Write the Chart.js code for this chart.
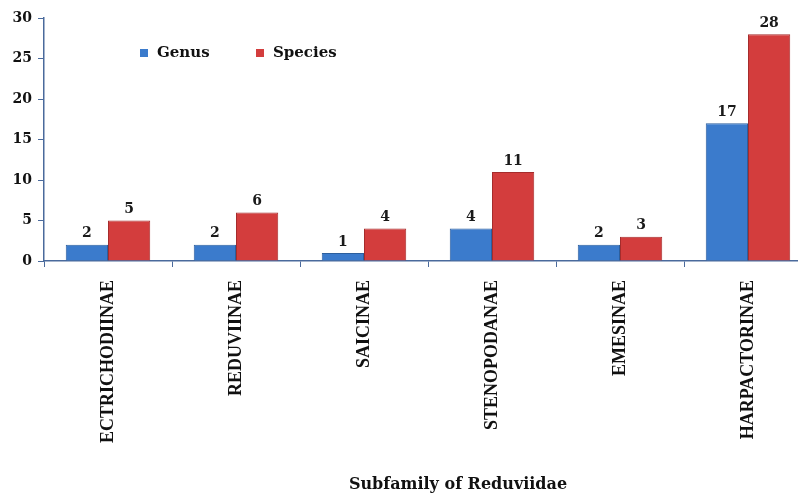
<!DOCTYPE html>
<html>
<head>
<meta charset="utf-8">
<script src="https://cdn.jsdelivr.net/npm/chart.js@4.4.0/dist/chart.umd.min.js"></script>
<style>
  html, body { margin: 0; padding: 0; background: #fff; overflow: hidden; }
  /* the original figure is cropped on the right, so the canvas runs a little past the window */
  #wrap { width: 798px; height: 495px; overflow: hidden; }
</style>
</head>
<body>
<div id="wrap"><canvas id="chart" width="812" height="495"></canvas></div>
<script>
const subfamilies = ["ECTRICHODIINAE", "REDUVIINAE", "SAICINAE", "STENOPODANAE", "EMESINAE", "HARPACTORINAE"];
const genusCounts = [2, 2, 1, 4, 2, 17];
const speciesCounts = [5, 6, 4, 11, 3, 28];
const yTicks = [0, 5, 10, 15, 20, 25, 30];
const axisTitle = "Subfamily of Reduviidae";

const axisColor = "#4a6a9c";
const serif = "'DejaVu Serif', serif";

// numbers above each bar
const barLabels = {
  id: "barLabels",
  afterDatasetsDraw(chart) {
    const ctx = chart.ctx;
    ctx.save();
    ctx.font = "bold 14px " + serif;
    ctx.fillStyle = "#1a1a1a";
    ctx.textAlign = "center";
    ctx.textBaseline = "bottom";
    chart.data.datasets.forEach((ds, i) => {
      chart.getDatasetMeta(i).data.forEach((bar, j) => {
        ctx.fillText(ds.data[j], bar.x, bar.y - 4);
      });
    });
    ctx.restore();
  }
};

// legend inside the plot (upper left) and the axis title, which sits right of centre in the original
const extras = {
  id: "extras",
  afterDraw(chart) {
    const ctx = chart.ctx;
    const { left, right, top } = chart.chartArea;
    ctx.save();
    ctx.font = "bold 15px " + serif;
    ctx.textBaseline = "middle";
    let x = left + 96;
    const y = top + 35;
    chart.data.datasets.forEach(ds => {
      ctx.fillStyle = ds.backgroundColor;
      ctx.fillRect(x, y - 4, 8, 8);
      ctx.fillStyle = "#111";
      ctx.fillText(ds.label, x + 17, y);
      x += 116;
    });

    ctx.font = "bold 16px " + serif;
    ctx.textAlign = "center";
    ctx.fillText(axisTitle, (left + right) / 2 + 30, chart.height - 10);
    ctx.restore();
  }
};

new Chart(document.getElementById("chart"), {
  type: "bar",
  data: {
    labels: subfamilies,
    datasets: [
      {
        label: "Genus",
        data: genusCounts,
        backgroundColor: "#3b7bcc",
        borderColor: "#2c5f9e",
        borderWidth: 1,
        categoryPercentage: 0.66,
        barPercentage: 1.0
      },
      {
        label: "Species",
        data: speciesCounts,
        backgroundColor: "#d33d3d",
        borderColor: "#a52c2c",
        borderWidth: 1,
        categoryPercentage: 0.66,
        barPercentage: 1.0
      }
    ]
  },
  options: {
    responsive: false,
    animation: false,
    layout: { padding: { top: 18, left: 0, right: 0, bottom: 0 } },
    plugins: {
      legend: { display: false },
      tooltip: { enabled: false }
    },
    scales: {
      x: {
        grid: { display: true, drawOnChartArea: false, tickLength: 6, color: axisColor },
        border: { color: axisColor, width: 1.5 },
        ticks: {
          minRotation: 90,
          maxRotation: 90,
          padding: 13,
          color: "#111",
          font: { family: "'Liberation Serif', serif", weight: "bold", size: 18 }
        },
        afterFit(scale) { scale.height = 234; }
      },
      y: {
        min: 0,
        max: 30,
        afterBuildTicks(scale) { scale.ticks = yTicks.map(v => ({ value: v })); },
        grid: { display: true, drawOnChartArea: false, tickLength: 6, color: axisColor },
        border: { color: axisColor, width: 1.5 },
        ticks: {
          padding: 6,
          color: "#111",
          font: { family: serif, weight: "bold", size: 14 }
        },
        afterFit(scale) { scale.width = 44; }
      }
    }
  },
  plugins: [barLabels, extras]
});
</script>
</body>
</html>
